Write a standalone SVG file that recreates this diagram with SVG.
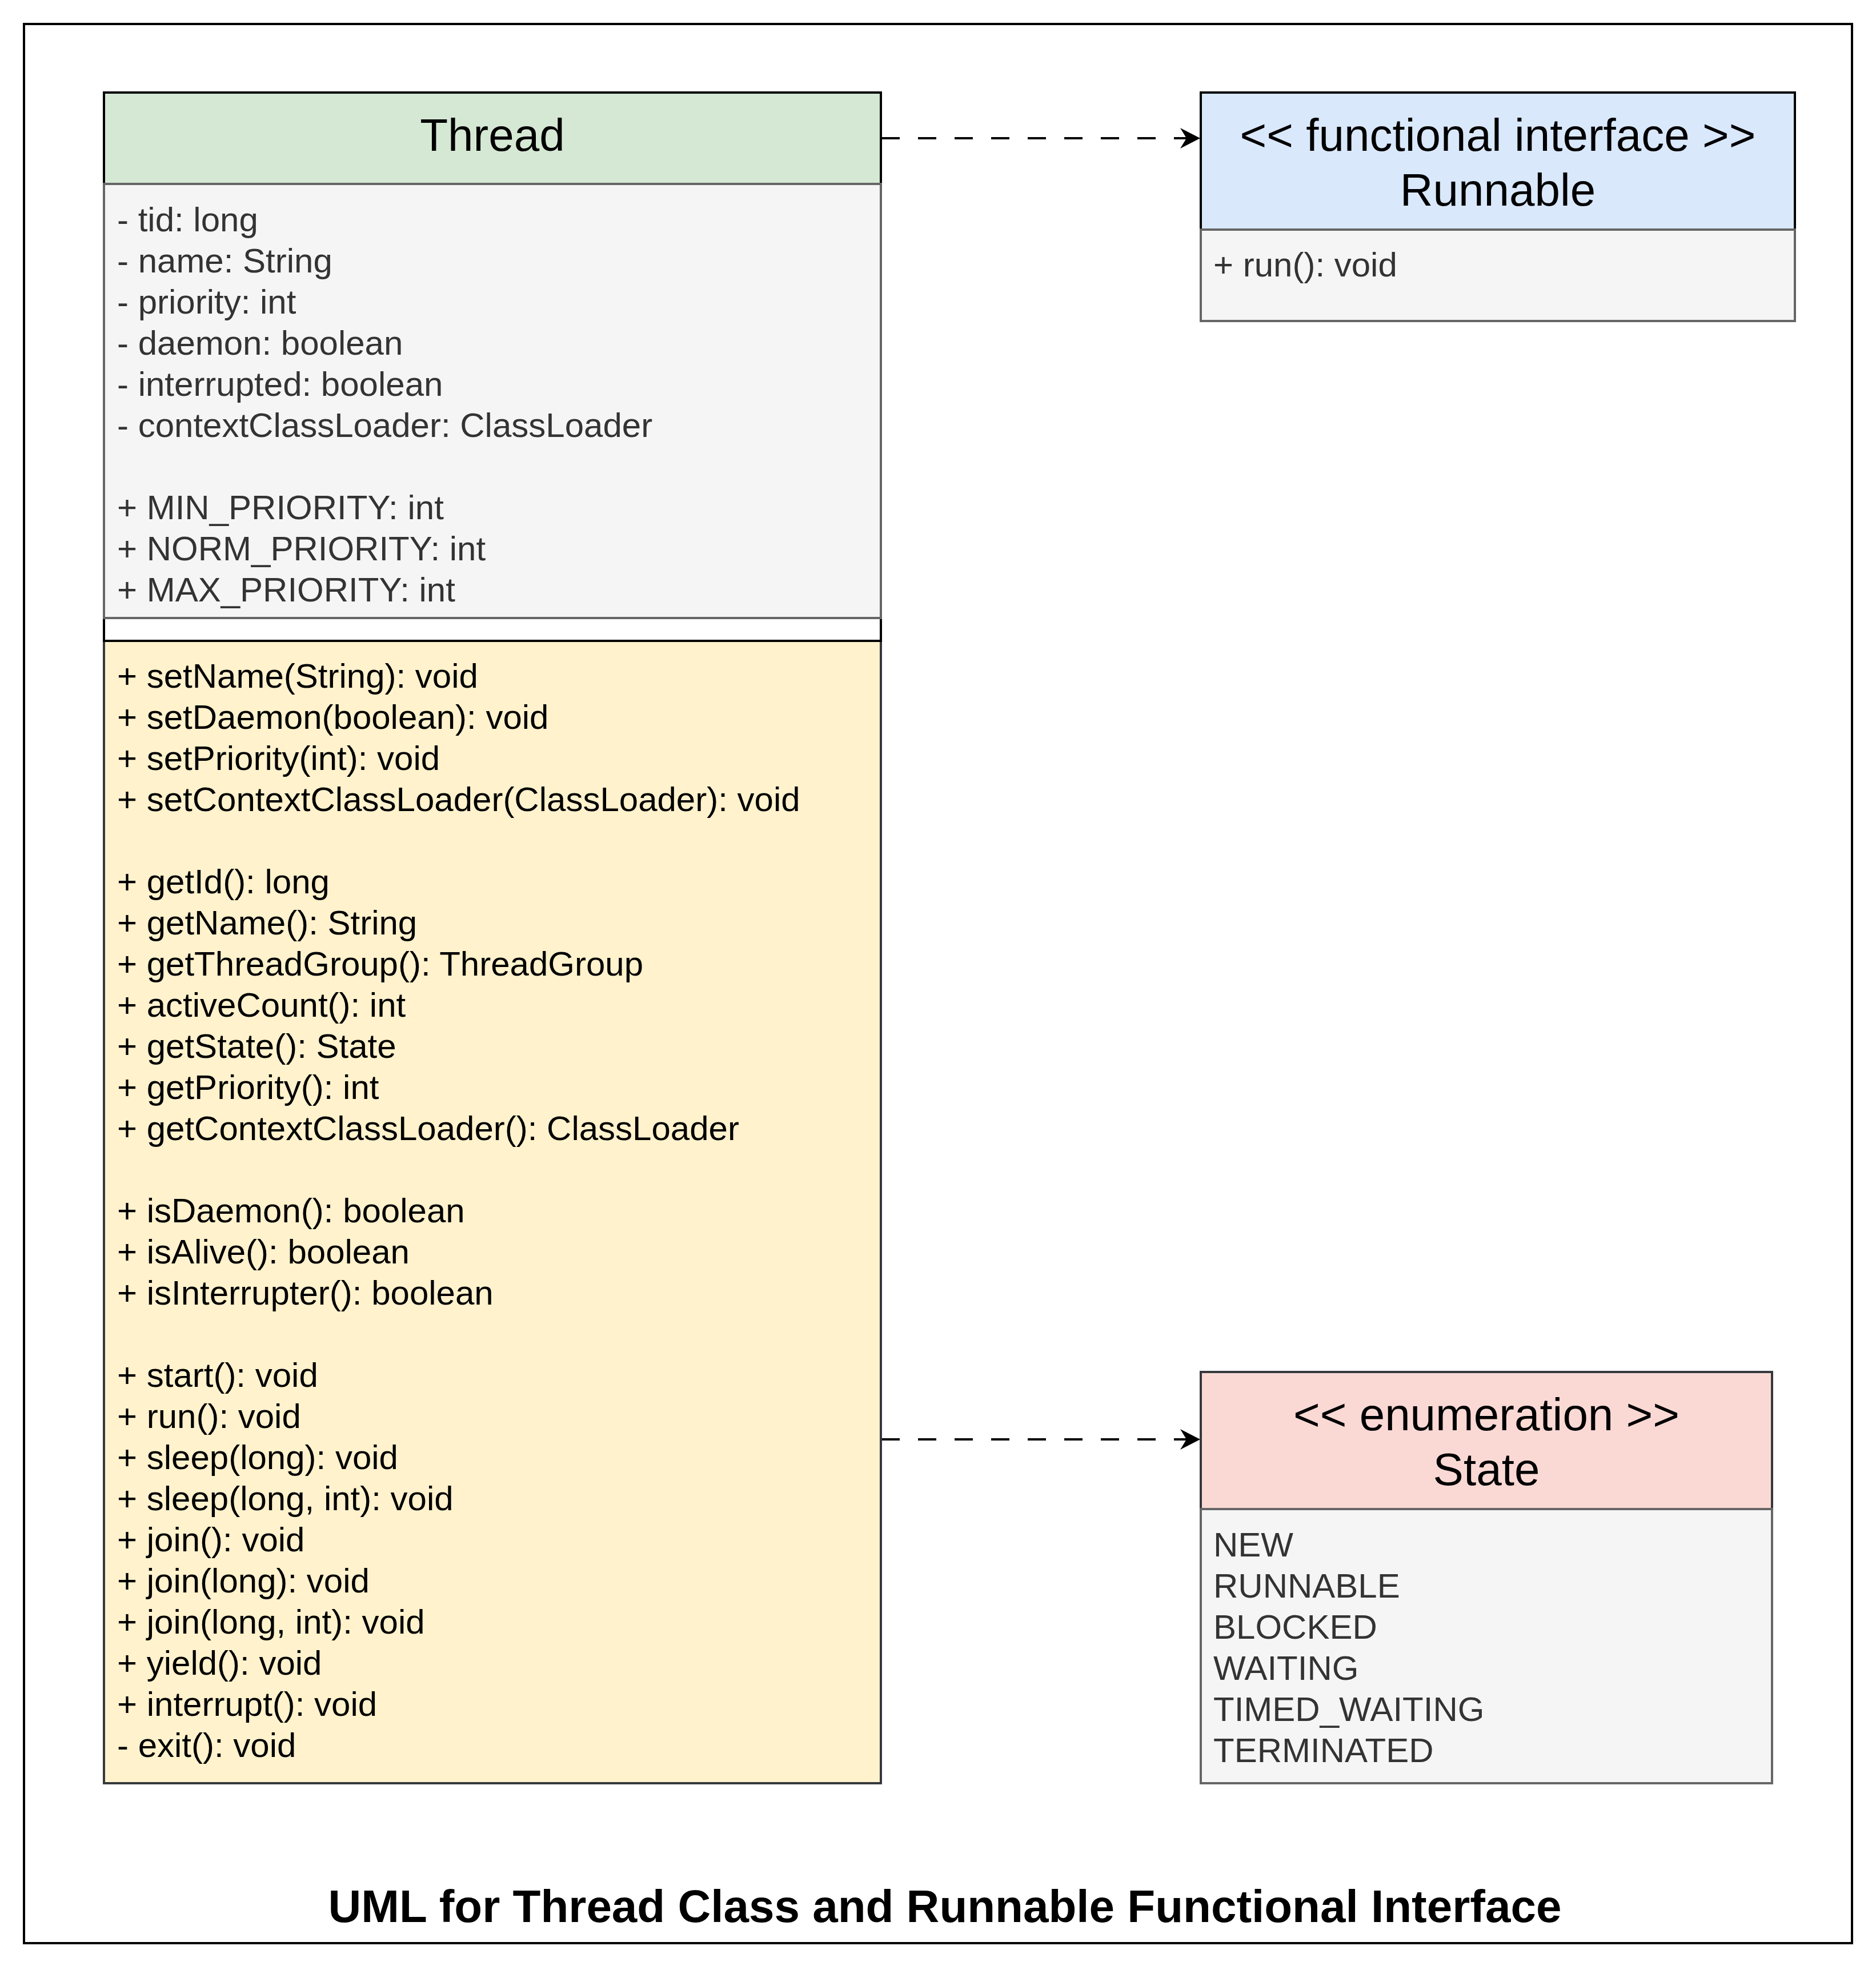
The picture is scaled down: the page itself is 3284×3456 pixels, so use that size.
<svg xmlns="http://www.w3.org/2000/svg" width="3284" height="3456" viewBox="0 0 3284 3456">
  <style>
    text { font-family: "Liberation Sans", Arial, sans-serif; }
    .hdr { font-size: 80px; fill: #000000; text-anchor: middle; }
    .body { font-size: 60px; fill: #333333; }
    .meth { font-size: 60px; fill: #000000; }
    .title { font-size: 80px; font-weight: bold; fill: #000000; text-anchor: middle; }
    .grey { fill: #f5f5f5; stroke: #666666; stroke-width: 4; }
    .edge { fill: none; stroke: #000000; stroke-width: 4; stroke-dasharray: 32 32; }
  </style>
  <defs>
    <marker id="arrow" markerUnits="userSpaceOnUse" markerWidth="40" markerHeight="40" viewBox="0 -20 40 40" refX="35" refY="0" orient="auto">
      <path d="M0,-18 L35,0 L0,18 L11,0 Z" fill="#000000"/>
    </marker>
  </defs>
  <rect x="0" y="0" width="3284" height="3456" fill="#ffffff"/>
  <g id="frame">
    <rect x="42" y="42" width="3200" height="3360" fill="#ffffff" stroke="#000000" stroke-width="4"/>
    <text class="title" x="1654" y="3365">UML for Thread Class and Runnable Functional Interface</text>
  </g>

  <g id="connectors">
    <line class="edge" x1="1543" y1="242" x2="2101" y2="242" marker-end="url(#arrow)"/>
    <line class="edge" x1="1543" y1="2520" x2="2101" y2="2520" marker-end="url(#arrow)"/>
  </g>

  <g id="thread">
    <rect x="182" y="162" width="1360" height="160" fill="#d5e8d4" stroke="#000000" stroke-width="4"/>
    <rect x="182" y="1122" width="1360" height="2000" fill="#fff2cc" stroke="#36393d" stroke-width="4"/>
    <rect x="182" y="1082" width="1360" height="40" fill="#ffffff" stroke="#000000" stroke-width="4"/>
    <rect class="grey" x="182" y="322" width="1360" height="760"/>
    <text class="hdr" x="862" y="264">Thread</text>
    <g class="body">
      <text x="205" y="405">- tid: long</text>
      <text x="205" y="477">- name: String</text>
      <text x="205" y="549">- priority: int</text>
      <text x="205" y="621">- daemon: boolean</text>
      <text x="205" y="693">- interrupted: boolean</text>
      <text x="205" y="765">- contextClassLoader: ClassLoader</text>
      <text x="205" y="909">+ MIN_PRIORITY: int</text>
      <text x="205" y="981">+ NORM_PRIORITY: int</text>
      <text x="205" y="1053">+ MAX_PRIORITY: int</text>
    </g>
    <g class="meth">
      <text x="205" y="1204">+ setName(String): void</text>
      <text x="205" y="1276">+ setDaemon(boolean): void</text>
      <text x="205" y="1348">+ setPriority(int): void</text>
      <text x="205" y="1420">+ setContextClassLoader(ClassLoader): void</text>
      <text x="205" y="1564">+ getId(): long</text>
      <text x="205" y="1636">+ getName(): String</text>
      <text x="205" y="1708">+ getThreadGroup(): ThreadGroup</text>
      <text x="205" y="1780">+ activeCount(): int</text>
      <text x="205" y="1852">+ getState(): State</text>
      <text x="205" y="1924">+ getPriority(): int</text>
      <text x="205" y="1996">+ getContextClassLoader(): ClassLoader</text>
      <text x="205" y="2140">+ isDaemon(): boolean</text>
      <text x="205" y="2212">+ isAlive(): boolean</text>
      <text x="205" y="2284">+ isInterrupter(): boolean</text>
      <text x="205" y="2428">+ start(): void</text>
      <text x="205" y="2500">+ run(): void</text>
      <text x="205" y="2572">+ sleep(long): void</text>
      <text x="205" y="2644">+ sleep(long, int): void</text>
      <text x="205" y="2716">+ join(): void</text>
      <text x="205" y="2788">+ join(long): void</text>
      <text x="205" y="2860">+ join(long, int): void</text>
      <text x="205" y="2932">+ yield(): void</text>
      <text x="205" y="3004">+ interrupt(): void</text>
      <text x="205" y="3076">- exit(): void</text>
    </g>
  </g>

  <g id="runnable">
    <rect x="2102" y="162" width="1040" height="240" fill="#dae8fc" stroke="#000000" stroke-width="4"/>
    <rect class="grey" x="2102" y="402" width="1040" height="160"/>
    <text class="hdr" x="2622" y="264">&lt;&lt; functional interface &gt;&gt;</text>
    <text class="hdr" x="2622" y="360">Runnable</text>
    <text class="body" x="2124" y="484">+ run(): void</text>
  </g>

  <g id="state">
    <rect x="2102" y="2402" width="1000" height="240" fill="#fad9d5" stroke="#36393d" stroke-width="4"/>
    <rect class="grey" x="2102" y="2642" width="1000" height="480"/>
    <text class="hdr" x="2602" y="2504">&lt;&lt; enumeration &gt;&gt;</text>
    <text class="hdr" x="2602" y="2600">State</text>
    <g class="body">
      <text x="2124" y="2725">NEW</text>
      <text x="2124" y="2797">RUNNABLE</text>
      <text x="2124" y="2869">BLOCKED</text>
      <text x="2124" y="2941">WAITING</text>
      <text x="2124" y="3013">TIMED_WAITING</text>
      <text x="2124" y="3085">TERMINATED</text>
    </g>
  </g>
</svg>
